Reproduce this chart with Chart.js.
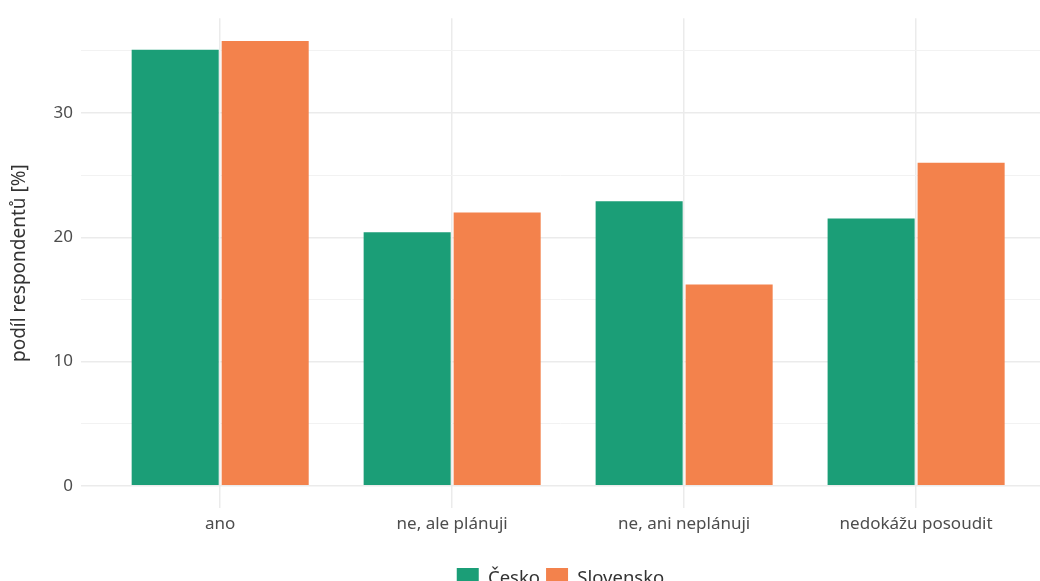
<!DOCTYPE html>
<html>
<head>
<meta charset="utf-8">
<script src="https://cdn.jsdelivr.net/npm/chart.js@4/dist/chart.umd.min.js"></script>
<style>
html,body{margin:0;padding:0;background:#fff;overflow:hidden;}
#wrap{width:1040px;height:581px;position:relative;overflow:hidden;}
</style>
</head>
<body>
<div id="wrap"><canvas id="c" width="1040" height="600"></canvas></div>
<script>
const categories = ['ano', 'ne, ale plánuji', 'ne, ani neplánuji', 'nedokážu posoudit'];
const seriesNames = ['Česko', 'Slovensko'];
const cesko = [35.1, 20.4, 22.9, 21.5];
const slovensko = [35.8, 22.0, 16.2, 26.0];
const yMajorTicks = [0, 10, 20, 30];
const yMinorTicks = [5, 15, 25, 35];
const yTitle = 'podíl respondentů [%]';

const FONT = "'Noto Sans', 'DejaVu Sans', sans-serif";
const colors = ['#1b9e77', '#f3824c'];

const toPoints = arr => arr.map((v, i) => ({x: i, y: v}));

new Chart(document.getElementById('c'), {
  type: 'bar',
  data: {
    datasets: [
      {label: seriesNames[0], data: toPoints(cesko), backgroundColor: colors[0], borderWidth: 0,
       categoryPercentage: 0.776, barPercentage: 0.967},
      {label: seriesNames[1], data: toPoints(slovensko), backgroundColor: colors[1], borderWidth: 0,
       categoryPercentage: 0.776, barPercentage: 0.967}
    ]
  },
  options: {
    responsive: false,
    animation: false,
    layout: {padding: {top: 14.6, right: 0, left: 8, bottom: 0}},
    plugins: {
      tooltip: {enabled: false},
      legend: {
        position: 'bottom',
        fullSize: false,
        padding: 0,
        labels: {
          boxWidth: 22, boxHeight: 22, padding: 6,
          color: '#333333',
          font: {family: FONT, size: 18.5}
        }
      }
    },
    scales: {
      x: {
        type: 'linear',
        min: -0.6, max: 3.534,
        offset: false,
        afterBuildTicks: s => { s.ticks = categories.map((c, i) => ({value: i})); },
        afterFit: s => { s.height = 54; },
        ticks: {
          callback: v => categories[v] !== undefined ? categories[v] : '',
          color: '#4d4d4d',
          font: {family: FONT, size: 17},
          padding: 6,
          maxRotation: 0, autoSkip: false
        },
        grid: {color: '#ebebeb', lineWidth: 1.5, drawTicks: false, offset: false},
        border: {display: false}
      },
      y: {
        min: -1.79, max: 37.63,
        afterBuildTicks: s => {
          s.ticks = [...yMajorTicks, ...yMinorTicks].sort((a, b) => a - b).map(v => ({value: v}));
        },
        afterFit: s => { s.width = 73; },
        ticks: {
          callback: v => yMajorTicks.includes(v) ? String(v) : '',
          color: '#4d4d4d',
          font: {family: FONT, size: 17},
          padding: 8
        },
        grid: {
          drawTicks: false,
          color: ctx => yMajorTicks.includes(ctx.tick.value) ? '#ebebeb' : '#f2f2f2',
          lineWidth: ctx => yMajorTicks.includes(ctx.tick.value) ? 1.5 : 1
        },
        border: {display: false},
        title: {
          display: true, text: yTitle, color: '#333333',
          font: {family: FONT, size: 19}, padding: {top: 0, bottom: 4}
        }
      }
    }
  }
});
</script>
</body>
</html>
